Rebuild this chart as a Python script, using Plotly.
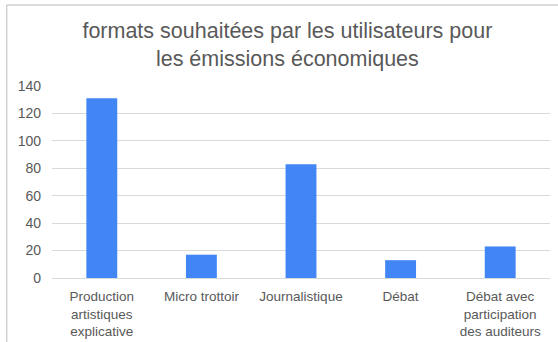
import plotly.graph_objects as go

categories = ["Production<br>artistiques<br>explicative", "Micro trottoir", "Journalistique",
              "Débat", "Débat avec<br>participation<br>des auditeurs"]
values = [131, 17, 83, 13, 23]
y_ticks = [0, 20, 40, 60, 80, 100, 120, 140]

fig = go.Figure(go.Bar(x=categories, y=values, marker=dict(color="#4285F4", line=dict(width=0)),
                       width=0.31))

font = "Liberation Sans, Arial, sans-serif"
fig.update_layout(
    width=558, height=342,
    margin=dict(l=52, r=8, t=86, b=64),
    paper_bgcolor="white", plot_bgcolor="white",
    title=dict(text="formats souhaitées par les utilisateurs pour<br>les émissions économiques",
               x=0.515, xanchor="center", y=0.888, yanchor="middle",
               font=dict(family=font, size=21.5, color="#595959")),
    font=dict(family=font, size=13.5, color="#595959"),
    xaxis=dict(showgrid=False, ticks="", tickfont=dict(size=13.5, color="#595959"),
               ticklabelstandoff=6, automargin=False,
               showline=True, linecolor="#d9d9d9", linewidth=1),
    yaxis=dict(range=[0, 140], tickvals=y_ticks, showgrid=True, gridcolor="#d9d9d9",
               zeroline=False, ticks="", ticklabelstandoff=10, automargin=False,
               tickfont=dict(size=14, color="#595959")),
    showlegend=False,
    bargap=0.69,
)

fig.add_shape(type="line", xref="paper", yref="paper", x0=-0.091, x1=1.02, y0=1.422, y1=1.422,
              line=dict(color="#d0d0d0", width=1.5))
fig.add_shape(type="line", xref="paper", yref="paper", x0=-0.091, x1=-0.091, y0=1.422, y1=-0.35,
              line=dict(color="#d0d0d0", width=1.5))

fig.write_html("out.html")
